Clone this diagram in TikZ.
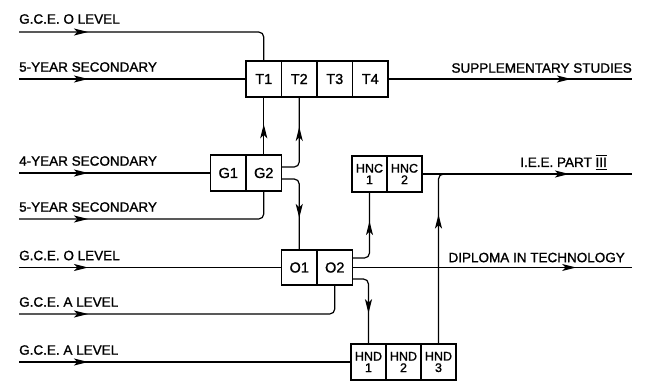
\documentclass[tikz,border=0pt]{standalone}
\usepackage{amsmath}
\usepackage{fontspec}
\setmainfont{Liberation Sans}[FakeBold=1.2]
\usetikzlibrary{arrows.meta, decorations.markings, positioning, calc}

\tikzset{
  cell/.style={draw, line width=1.3pt, minimum width=35.5pt, minimum height=36pt,
    inner sep=0pt, outer sep=0pt, font=\fontsize{14.5}{14.5}\selectfont},
  hcell/.style={cell, minimum width=35pt, align=center, font=\fontsize{12.5}{11.5}\selectfont},
  conn/.style={line width=1.2pt, rounded corners=5pt},
  flow/.style={postaction={decorate}, decoration={markings,
    mark=at position #1 with {\arrow{Stealth[length=14pt,width=7pt,inset=3.5pt]}}}},
  lbl/.style={inner sep=0pt, font=\fontsize{13.5}{14}\selectfont},
}

\begin{document}
\begin{tikzpicture}[x=1pt, y=-1pt]
        \useasboundingbox (0,0) rectangle (651,383);

        % Course blocks
        \node[cell] (T1) at (263.75,79) {T1};
        \node[cell, right=0pt of T1] (T2) {T2};
        \node[cell, right=0pt of T2] (T3) {T3};
        \node[cell, right=0pt of T3] (T4) {T4};

        \node[cell] (G2) at (263.75,173) {G2};
        \node[cell, left=0pt of G2] (G1) {G1};

        \node[cell, minimum height=35pt] (O1) at (299.25,267.5) {O1};
        \node[cell, minimum height=35pt, right=0pt of O1] (O2) {O2};

        \node[hcell] (HNC1) at (369.5,174) {HNC\\1};
        \node[hcell, right=0pt of HNC1] (HNC2) {HNC\\2};

        \node[hcell] (HND1) at (368.5,362) {HND\\1};
        \node[hcell, right=0pt of HND1] (HND2) {HND\\2};
        \node[hcell, right=0pt of HND2] (HND3) {HND\\3};

        % Entry and exit points
        \coordinate (in1) at (19,32);
        \coordinate (in2) at (19,79);
        \coordinate (in3) at (19,173);
        \coordinate (in4) at (19,219);
        \coordinate (in5) at (19,267.5);
        \coordinate (in6) at (19,314);
        \coordinate (in7) at (19,362);
        \coordinate (out1) at (632,79);
        \coordinate (out2) at (632,267.5);
        \coordinate (out3) at (632,174);
        \path (HND3.north |- HNC2.east) ++(12,0) coordinate (join);

        % Labels
        \node[lbl, above right=8pt and 0pt of in1] {G.C.E. O LEVEL};
        \node[lbl, above right=7pt and 0pt of in2] {5-YEAR SECONDARY};
        \node[lbl, above right=7pt and 0pt of in3] {4-YEAR SECONDARY};
        \node[lbl, above right=7pt and 0pt of in4] {5-YEAR SECONDARY};
        \node[lbl, above right=7pt and 0pt of in5] {G.C.E. O LEVEL};
        \node[lbl, above right=7pt and 0pt of in6] {G.C.E. A LEVEL};
        \node[lbl, above right=7pt and 0pt of in7] {G.C.E. A LEVEL};
        \node[lbl, above left=6pt and 0pt of out1] {SUPPLEMENTARY STUDIES};
        \node[lbl, above left=5pt and 7pt of out2] {DIPLOMA IN TECHNOLOGY};
        \node[lbl, above left=4pt and 25pt of out3] {I.E.E. PART $\overline{\underline{\text{III}}}$};

        % Routes
        \draw[conn, flow=69pt] (in1) -| (T1.north);
        \draw[conn, flow=69pt] (in2) -- (T1.west);
        \draw[conn, flow=0.75] (T4.east) -- (out1);
        \draw[conn, flow=69pt] (in3) -- (G1.west);
        \draw[conn, flow=69pt] (in4) -| (G2.south);
        \draw[conn, flow=0.53] (G2.north) -- (T1.south);
        \draw[conn, flow=0.65] ([yshift=6pt]G2.east) -| (T2.south);
        \draw[conn, flow=0.63] ([yshift=-6pt]G2.east) -| (O1.north);
        \draw[conn, flow=69pt] (in5) -- (O1.west);
        \draw[conn, flow=69pt] (in6) -| (O2.south);
        \draw[conn, flow=69pt] (in7) -- (HND1.west);
        \draw[conn, flow=0.64] ([yshift=9.5pt]O2.east) -| (HNC1.south);
        \draw[conn, flow=0.61] ([yshift=-11.5pt]O2.east) -| (HND1.north);
        \draw[conn, flow=0.8] (O2.east) -- (out2);
        \draw[conn, flow=0.7] (HNC2.east) -- (out3);
        \draw[conn, flow=0.72] (HND3.north) |- (join);
    \end{tikzpicture}
\end{document}
